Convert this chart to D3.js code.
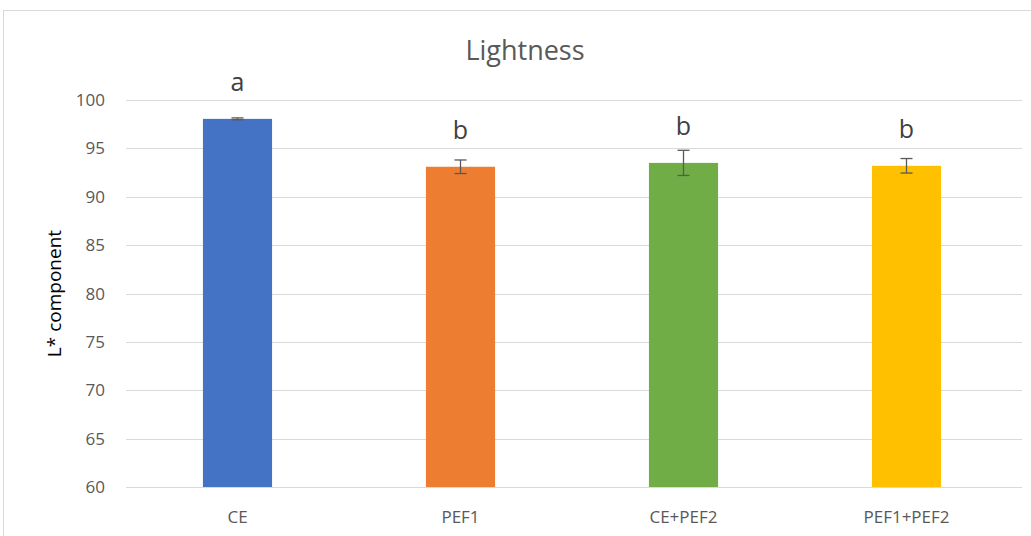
<!DOCTYPE html>
<html>
<head>
<meta charset="utf-8">
<script src="https://cdn.jsdelivr.net/npm/d3@7"></script>
<style>
  body { margin: 0; background: #fff; }
  text { font-family: "Open Sans", "Noto Sans", sans-serif; }
</style>
</head>
<body>
<svg width="1031" height="536"></svg>
<script>
const categories = ["CE", "PEF1", "CE+PEF2", "PEF1+PEF2"];
const values = [98.05, 93.1, 93.5, 93.2];
const errors = [0.1, 0.7, 1.3, 0.75];
const letters = ["a", "b", "b", "b"];
const colors = ["#4472c4", "#ed7d31", "#70ad47", "#ffc000"];
const yTicks = [60, 65, 70, 75, 80, 85, 90, 95, 100];

const svg = d3.select("svg");

// chart border
svg.append("rect")
    .attr("x", 3.5).attr("y", 10.5)
    .attr("width", 1040).attr("height", 540)
    .attr("fill", "none")
    .attr("stroke", "#d9d9d9");

const plotLeft = 126, plotRight = 1018, plotTop = 100, plotBottom = 487;

const x = d3.scaleBand()
    .domain(categories)
    .range([plotLeft, plotRight])
    .paddingInner(0.69)
    .paddingOuter(0.345);

const y = d3.scaleLinear()
    .domain([60, 100])
    .range([plotBottom, plotTop]);

// gridlines
svg.append("g")
    .selectAll("line")
    .data(yTicks)
    .enter().append("line")
    .attr("x1", plotLeft).attr("x2", 1022)
    .attr("y1", d => Math.round(y(d)) + 0.5)
    .attr("y2", d => Math.round(y(d)) + 0.5)
    .attr("stroke", "#d9d9d9");

// y tick labels
svg.append("g")
    .selectAll("text")
    .data(yTicks)
    .enter().append("text")
    .attr("x", 105)
    .attr("y", d => y(d) + 6)
    .attr("text-anchor", "end")
    .attr("font-size", "17px")
    .attr("fill", "#595959")
    .text(d => d);

// bars
svg.append("g")
    .selectAll("rect")
    .data(values)
    .enter().append("rect")
    .attr("x", (d, i) => x(categories[i]))
    .attr("y", d => y(d))
    .attr("width", x.bandwidth())
    .attr("height", d => plotBottom - y(d))
    .attr("fill", (d, i) => colors[i]);

// error bars
const eb = svg.append("g").attr("stroke", "#595959").attr("stroke-width", 1.3);
values.forEach((v, i) => {
    const cx = x(categories[i]) + x.bandwidth() / 2;
    eb.append("line")
        .attr("x1", cx).attr("x2", cx)
        .attr("y1", y(v + errors[i])).attr("y2", y(v - errors[i]));
    [v + errors[i], v - errors[i]].forEach(e => {
        eb.append("line")
            .attr("x1", cx - 6).attr("x2", cx + 6)
            .attr("y1", y(e)).attr("y2", y(e));
    });
});

// significance letters
svg.append("g")
    .selectAll("text")
    .data(letters)
    .enter().append("text")
    .attr("x", (d, i) => x(categories[i]) + x.bandwidth() / 2)
    .attr("y", (d, i) => y(values[i]) - 28)
    .attr("text-anchor", "middle")
    .attr("font-size", "25px")
    .attr("fill", "#404040")
    .text(d => d);

// x labels
svg.append("g")
    .selectAll("text")
    .data(categories)
    .enter().append("text")
    .attr("x", d => x(d) + x.bandwidth() / 2)
    .attr("y", 523)
    .attr("text-anchor", "middle")
    .attr("font-size", "17px")
    .attr("fill", "#595959")
    .text(d => d);

// title
svg.append("text")
    .attr("x", 525).attr("y", 60)
    .attr("text-anchor", "middle")
    .attr("font-size", "27px")
    .attr("fill", "#595959")
    .text("Lightness");

// y label
svg.append("text")
    .attr("transform", `translate(61, ${(plotTop + plotBottom) / 2}) rotate(-90)`)
    .attr("text-anchor", "middle")
    .attr("font-size", "19px")
    .attr("font-family", "Liberation Sans, Arial, sans-serif")
    .attr("fill", "#000")
    .text("L* component");
</script>
</body>
</html>
